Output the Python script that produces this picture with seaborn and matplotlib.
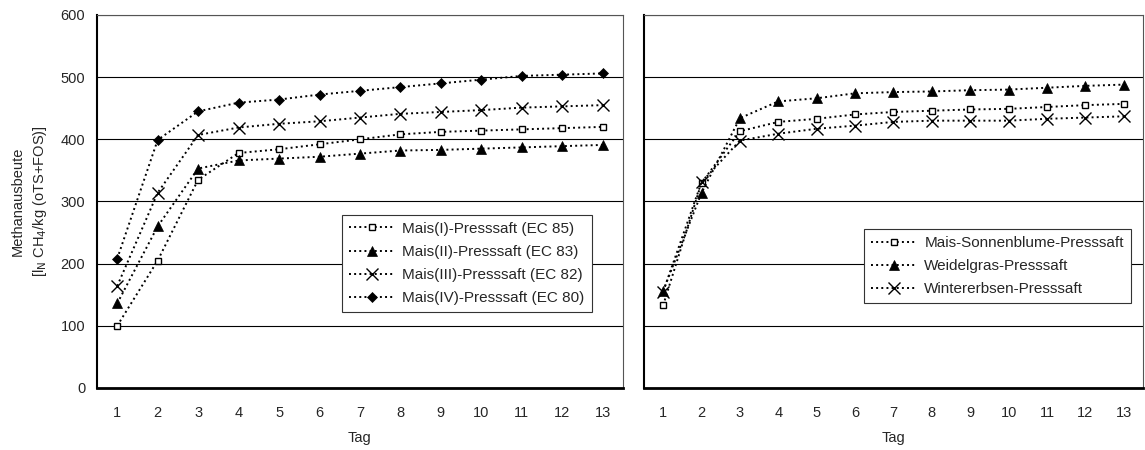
import matplotlib
matplotlib.use("Agg")
import matplotlib.pyplot as plt
import seaborn as sns
import pandas as pd

# ---------------------------------------------------------------------------
days = list(range(1, 14))

# left panel: Mais-Presssaefte
mais_1 = [100, 205, 335, 378, 384, 392, 400, 408, 412, 414, 416, 418, 420]
mais_2 = [136, 260, 353, 366, 369, 372, 377, 382, 383, 385, 387, 389, 391]
mais_3 = [164, 314, 407, 419, 425, 429, 435, 441, 444, 447, 451, 453, 455]
mais_4 = [208, 399, 445, 459, 464, 472, 478, 484, 490, 496, 502, 504, 506]
left_names = ["Mais(I)-Presssaft (EC 85)", "Mais(II)-Presssaft (EC 83)",
              "Mais(III)-Presssaft (EC 82)", "Mais(IV)-Presssaft (EC 80)"]

# right panel
sonnenblume = [133, 330, 413, 428, 433, 440, 444, 446, 448, 449, 452, 455, 457]
weidelgras = [156, 314, 434, 461, 466, 474, 476, 477, 479, 480, 483, 486, 488]
wintererbsen = [155, 331, 398, 409, 417, 422, 428, 430, 430, 430, 433, 435, 437]
right_names = ["Mais-Sonnenblume-Presssaft", "Weidelgras-Presssaft",
               "Wintererbsen-Presssaft"]

y_label = "Methanausbeute\n[l$_\\mathrm{N}$ CH$_4$/kg (oTS+FOS)]"
x_label = "Tag"

# ---------------------------------------------------------------------------
marker_style = {
    "s": dict(marker="s", markersize=4.5, markerfacecolor="white", markeredgewidth=1.0),
    "^": dict(marker="^", markersize=7, markerfacecolor="black", markeredgewidth=0.5),
    "x": dict(marker="x", markersize=9, markerfacecolor="none", markeredgewidth=1.0),
    "D": dict(marker="D", markersize=5, markerfacecolor="black", markeredgewidth=0.5),
}


def long_df(names, series):
    rows = []
    for name, vals in zip(names, series):
        for d, v in zip(days, vals):
            rows.append({"Tag": d, "value": v, "series": name})
    return pd.DataFrame(rows)


def draw_panel(ax, names, series, markers, show_ylabels):
    df = long_df(names, series)
    for name, mk in zip(names, markers):
        sub = df[df["series"] == name]
        sns.lineplot(data=sub, x="Tag", y="value", ax=ax, color="black",
                     linestyle=":", linewidth=1.4, markeredgecolor="black",
                     label=name, **marker_style[mk])
    handles, labels = ax.get_legend_handles_labels()

    ax.set_xlim(0.5, 13.5)
    ax.set_ylim(0, 600)
    ax.set_xticks(days)
    ax.set_xticks([d + 0.5 for d in range(0, 14)], minor=True)
    ax.tick_params(axis="x", which="major", length=0, pad=13, labelsize=10.5)
    ax.tick_params(axis="x", which="minor", length=4, width=0.8, direction="out")
    ax.set_yticks(range(0, 601, 100))
    ax.tick_params(axis="y", length=5, width=0.8, direction="out", labelsize=10.5,
                   labelleft=show_ylabels)
    ax.grid(axis="y", color="black", linewidth=0.8)
    ax.grid(axis="x", visible=False)
    ax.set_axisbelow(True)

    ax.spines["left"].set_linewidth(1.5)
    ax.spines["left"].set_color("black")
    ax.spines["bottom"].set_linewidth(2.0)
    ax.spines["bottom"].set_color("black")
    for s in ["top", "right"]:
        ax.spines[s].set_linewidth(0.8)
        ax.spines[s].set_color("#555555")

    ax.set_xlabel(x_label, fontsize=10.5, labelpad=8)
    if show_ylabels:
        ax.set_ylabel(y_label, fontsize=10.5, labelpad=8, linespacing=1.5)
    else:
        ax.set_ylabel("")
    return handles, labels


sns.set_style("white")
plt.rcParams["font.family"] = ["Liberation Sans", "DejaVu Sans"]

fig = plt.figure(figsize=(11.45, 4.5), dpi=100)
ax1 = fig.add_axes([0.0847, 0.1378, 0.4594, 0.8289])
ax2 = fig.add_axes([0.5624, 0.1378, 0.4358, 0.8289])

h1, l1 = draw_panel(ax1, left_names, [mais_1, mais_2, mais_3, mais_4],
                    ["s", "^", "x", "D"], True)
h2, l2 = draw_panel(ax2, right_names, [sonnenblume, weidelgras, wintererbsen],
                    ["s", "^", "x"], False)

for ax, h, l, anchor in [(ax1, h1, l1, (0.466, 0.464)), (ax2, h2, l2, (0.441, 0.426))]:
    leg = ax.legend(h, l, loc="upper left", bbox_to_anchor=anchor, fontsize=11,
                    frameon=True, fancybox=False, framealpha=1, edgecolor="#333333",
                    borderaxespad=0, handlelength=3.0, handletextpad=0.5,
                    labelspacing=0.6, borderpad=0.45, numpoints=1)
    leg.get_frame().set_linewidth(0.8)

fig.savefig("out.png", dpi=100)
